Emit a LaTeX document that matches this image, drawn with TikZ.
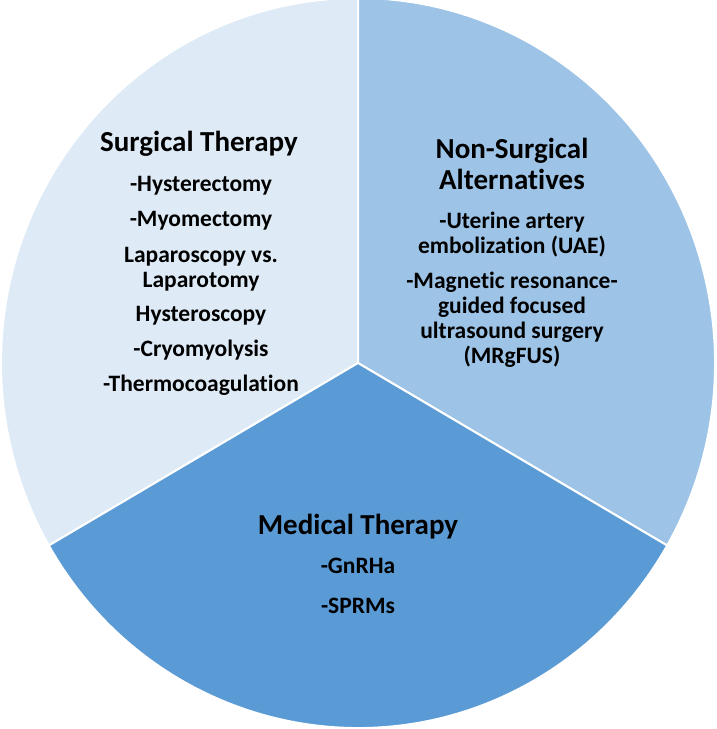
\documentclass[tikz,border=0pt]{standalone}
\usepackage{fontspec}
\setmainfont{Carlito}[Ligatures=CommonOff]
\usetikzlibrary{positioning}

\definecolor{surgblue}{HTML}{DEEBF7}
\definecolor{altblue}{HTML}{9DC3E6}
\definecolor{medblue}{HTML}{5B9BD5}

\tikzset{
  wedge/.style={draw=white,line width=2pt,line join=miter},
  title/.style={font=\fontsize{29}{31}\selectfont\bfseries,align=center,inner sep=0pt},
  para/.style={font=\fontsize{23.5}{25}\selectfont\bfseries,align=center,inner sep=0pt},
  item/.style={para,text height=0.68em,text depth=0.2em}
}

\begin{document}
\begin{tikzpicture}[x=1pt,y=1pt]
      \useasboundingbox (0,0) rectangle (716,729);
      \coordinate (c) at (358,366);

      \fill[surgblue,wedge] (c) -- +(90:357 and 365)
        arc[start angle=90,end angle=210,x radius=357,y radius=365] -- cycle;
      \fill[altblue,wedge] (c) -- +(-30:357 and 365)
        arc[start angle=-30,end angle=90,x radius=357,y radius=365] -- cycle;
      \fill[medblue,wedge] (c) -- +(210:357 and 365)
        arc[start angle=210,end angle=330,x radius=357,y radius=365] -- cycle;

      % surgical
      \node [title] (surg) at (199,585) {Surgical Therapy};
      \node [item] (hyst) at (201,540) {-Hysterectomy};
      \node [item] (myom) at (201,505) {-Myomectomy};
      \node [para] (lap) at (201,460) {Laparoscopy vs.\\Laparotomy};
      \node [item] (hscope) at (201,410) {Hysteroscopy};
      \node [item] (cryo) at (201,375) {-Cryomyolysis};
      \node [item] (thermo) at (201,340) {-Thermocoagulation};

      % non-surgical
      \node [title] (nonsurg) at (512,565) {Non-Surgical\\Alternatives};
      \node [para] (uae) at (512,494) {-Uterine artery\\embolization (UAE)};
      \node [para] (mrg) at (512,409) {-Magnetic resonance-\\guided focused\\ultrasound surgery\\(MRgFUS)};

      % medical
      \node [title] (med) at (358,202) {Medical Therapy};
      \node [item] (gnrh) at (358,158) {-GnRHa};
      \node [item] (sprm) at (358,118) {-SPRMs};
  \end{tikzpicture}
\end{document}
